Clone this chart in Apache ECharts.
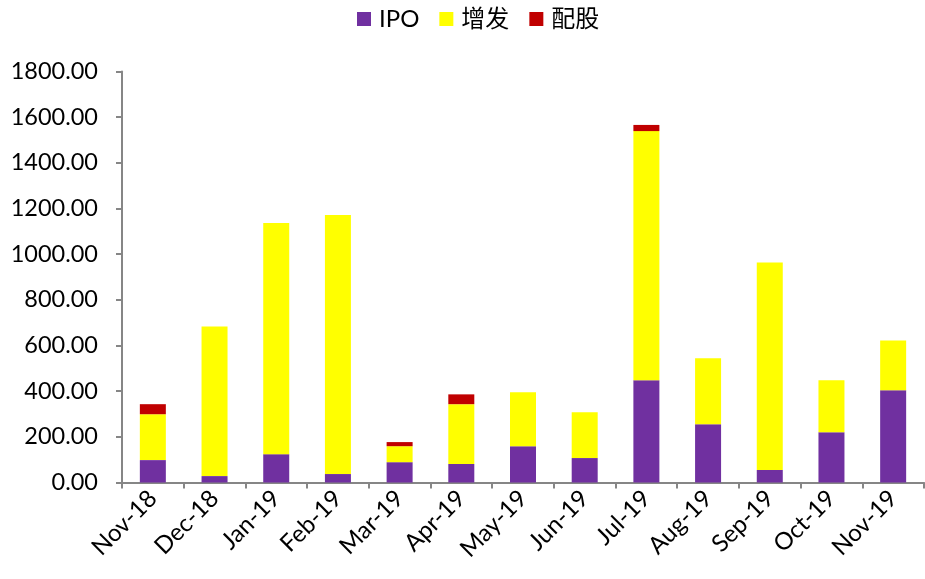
<!DOCTYPE html>
<html><head><meta charset="utf-8">
<script src="https://cdn.jsdelivr.net/npm/echarts@6/dist/echarts.min.js"></script>
<style>html,body{margin:0;padding:0;background:#fff}#c{width:925px;height:579px}</style>
</head><body><div id="c"></div>
<script>
const categories = ['Nov-18','Dec-18','Jan-19','Feb-19','Mar-19','Apr-19','May-19','Jun-19','Jul-19','Aug-19','Sep-19','Oct-19','Nov-19'];
const ipo   = [98, 28, 124, 37, 89, 81, 159, 107, 448, 255, 55, 220, 404];
const zengfa = [201, 655, 1013, 1135, 70, 262, 236, 201, 1091, 289, 908, 228, 218];
const peigu = [44, 0, 0, 0, 18, 43, 0, 0, 27, 0, 0, 0, 0];
const yTicks = [0, 200, 400, 600, 800, 1000, 1200, 1400, 1600, 1800];

const font = 'Lato, "Noto Sans CJK SC", sans-serif';
const chart = echarts.init(document.getElementById('c'));
chart.setOption({
  animation: false,
  legend: {
    top: 2, left: 352,
    itemWidth: 14, itemHeight: 14, itemGap: 20,
    icon: 'rect',
    textStyle: {fontSize: 24, fontFamily: font, color: '#000', padding: [0, 0, 0, 3]},
    data: ['IPO', '增发', '配股']
  },
  grid: {left: 122, right: 1, top: 71.5, bottom: 96.5, containLabel: false},
  xAxis: {
    type: 'category', data: categories,
    axisLine: {lineStyle: {color: '#868686', width: 2}},
    axisTick: {show: true, length: 6, lineStyle: {color: '#868686', width: 2}},
    axisLabel: {rotate: 45, fontSize: 24, fontFamily: font, color: '#000', margin: 12}
  },
  yAxis: {
    type: 'value', min: yTicks[0], max: yTicks[yTicks.length-1], interval: 200,
    axisLine: {show: true, lineStyle: {color: '#868686', width: 2}},
    axisTick: {show: true, length: 6, lineStyle: {color: '#868686', width: 2}},
    splitLine: {show: false},
    axisLabel: {fontSize: 23.5, fontFamily: font, color: '#000', margin: 24,
      formatter: v => v.toFixed(2)}
  },
  series: [
    {name: 'IPO', type: 'bar', stack: 's', data: ipo, barWidth: 26, itemStyle: {color: '#7030A0'}},
    {name: '增发', type: 'bar', stack: 's', data: zengfa, barWidth: 26, itemStyle: {color: '#FFFF00'}},
    {name: '配股', type: 'bar', stack: 's', data: peigu, barWidth: 26, itemStyle: {color: '#C00000'}}
  ]
});
</script></body></html>
